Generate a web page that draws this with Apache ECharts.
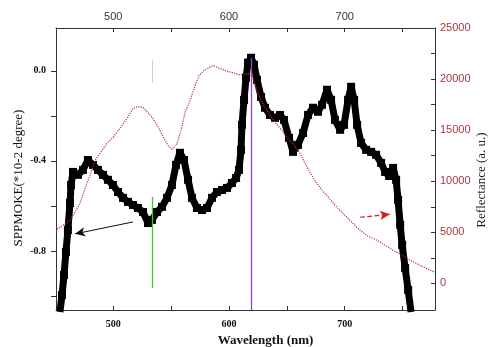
<!DOCTYPE html>
<html>
<head>
<meta charset="utf-8">
<script src="https://cdn.jsdelivr.net/npm/echarts@6.0.0/dist/echarts.min.js"></script>
<style>
html,body{margin:0;padding:0;background:#fff;}
#chart{width:491px;height:347px;}
</style>
</head>
<body>
<div id="chart"></div>
<script>
// SPPMOKE signal (left axis) – wavelength (nm) and value (*10^-2 degree)
const kerrWl = [453.9,455.7,457.4,459.1,460.8,462.6,463.5,465.2,469.5,473.8,478.1,482.5,486.8,491.1,495.4,499.7,504.1,508.4,512.7,517.0,521.3,525.7,530.0,533.4,537.8,542.1,546.4,550.7,554.2,557.6,561.1,564.6,568.0,572.3,576.7,581.0,585.3,589.6,594.0,598.3,602.6,606.1,608.6,610.4,611.2,613.0,614.7,616.4,619.0,621.6,624.2,627.7,631.1,635.4,639.8,644.1,647.5,651.9,655.3,659.6,664.0,668.3,672.6,676.9,680.4,684.7,688.2,691.6,696.0,699.4,702.9,705.5,708.1,710.7,714.1,718.5,722.8,727.1,731.4,734.9,738.4,741.8,744.4,746.1,747.9,749.6,752.2,754.8,757.3];
const kerrVal = [-1.071,-0.996,-0.907,-0.804,-0.707,-0.587,-0.507,-0.449,-0.462,-0.44,-0.396,-0.418,-0.44,-0.462,-0.484,-0.507,-0.538,-0.564,-0.582,-0.596,-0.609,-0.627,-0.676,-0.662,-0.627,-0.604,-0.564,-0.507,-0.418,-0.364,-0.396,-0.484,-0.564,-0.609,-0.618,-0.609,-0.564,-0.538,-0.529,-0.52,-0.498,-0.476,-0.44,-0.351,-0.24,-0.129,-0.031,0.036,0.058,0.027,-0.04,-0.116,-0.164,-0.196,-0.209,-0.196,-0.218,-0.298,-0.36,-0.329,-0.276,-0.196,-0.164,-0.182,-0.151,-0.084,-0.129,-0.218,-0.262,-0.24,-0.129,-0.071,-0.129,-0.24,-0.32,-0.351,-0.36,-0.373,-0.409,-0.449,-0.467,-0.431,-0.484,-0.573,-0.684,-0.773,-0.876,-0.973,-1.071];

// Reflectance (right axis, a.u.)
const reflWl = [451.3,456.5,462.6,467.8,471.2,475.6,479.9,484.2,488.5,494.6,499.7,505.8,511.8,517.0,521.3,525.7,530.0,534.3,538.6,543.0,547.3,550.7,555.1,558.5,562.0,566.3,570.6,574.1,578.4,582.7,586.2,590.5,594.8,599.2,603.5,607.8,612.1,616.4,619.9,624.2,628.6,633.7,639.8,645.8,651.0,656.2,661.4,665.7,670.0,675.2,680.4,687.3,693.3,700.2,707.1,713.2,720.1,727.9,734.8,741.7,749.5,756.4,765.0,773.7,778.0];
const reflVal = [5303,5693,6182,7158,7842,9307,10576,12041,12725,13701,14287,15166,16143,17120,17315,17217,16729,16143,15362,14385,13506,13115,13701,14971,16729,17901,19366,20342,20831,21124,21319,21124,20929,20733,20635,20440,20440,20538,20342,18877,17705,16729,15752,14971,14190,13506,12725,11748,10869,9893,9112,8233,7451,6670,5889,5205,4619,4229,3740,3252,2764,2275,1787,1299,1104];

// Axis ticks / labels
const xTicks = [500,550,600,650,700,750];
const xLabels = [500,600,700];
const leftTicks = [-1.0,-0.8,-0.6,-0.4,-0.2,0.0];
const leftLabels = [-0.8,-0.4,0.0];
const rightTicks = [0,2500,5000,7500,10000,12500,15000,17500,20000,22500,25000];
const rightLabels = [0,5000,10000,15000,20000,25000];

// Annotations
const greenWl = 533.5;
const purpleWl = 618.8;

const kerrData = kerrWl.map((w,i)=>[w,kerrVal[i]]);
const reflData = reflWl.map((w,i)=>[w,reflVal[i]]);

const serif = "'Liberation Serif','DejaVu Serif',serif";
const sans = "'Liberation Sans',Arial,sans-serif";
const axisLineStyle = {color:'#333', width:1};

function vline(name, yIdx, pairs, color, width, type, arrow){
  return {name:name,type:'line',xAxisIndex:0,yAxisIndex:yIdx,data:[],z:5,
    markLine:{silent:true,animation:false,precision:4,
      symbol:arrow?['none','arrow']:['none','none'],symbolSize:[7,10],
      label:{show:false},
      lineStyle:{color:color,width:width,type:type,opacity:1},
      itemStyle:{color:color},
      emphasis:{disabled:true},
      data:pairs.map(p=>[{coord:p[0]},{coord:p[1]}])}};
}

const chart = echarts.init(document.getElementById('chart'), null, {renderer:'canvas'});
chart.setOption({
  animation:false,
  backgroundColor:'#fff',
  grid:{left:56,right:56,top:28,bottom:37,containLabel:false,outerBoundsMode:'none'},
  xAxis:[
    {type:'value',position:'bottom',min:450.5,max:778,
     name:'Wavelength (nm)',nameLocation:'middle',nameGap:22,
     nameTextStyle:{fontFamily:serif,fontWeight:'bold',fontSize:13,color:'#111',padding:[0,0,0,40]},
     axisLine:{show:true,onZero:false,lineStyle:axisLineStyle},
     axisTick:{show:true,inside:true,length:4,customValues:xTicks,lineStyle:axisLineStyle},
     axisLabel:{customValues:xLabels,fontFamily:serif,fontWeight:'bold',fontSize:10,color:'#111',margin:9},
     splitLine:{show:false}},
    {type:'value',position:'top',min:450.5,max:778,
     axisLine:{show:true,onZero:false,lineStyle:axisLineStyle},
     axisTick:{show:true,inside:true,length:4,customValues:xTicks,lineStyle:axisLineStyle},
     axisLabel:{customValues:xLabels,fontFamily:sans,fontSize:11,color:'#333',margin:6},
     splitLine:{show:false}}
  ],
  yAxis:[
    {type:'value',position:'left',min:-1.062,max:0.19,
     name:'SPPMOKE(*10-2 degree)',nameLocation:'middle',nameGap:31,nameRotate:90,nameMoveOverlap:false,
     nameTextStyle:{fontFamily:serif,fontSize:13,color:'#111',padding:[0,18,0,0]},
     axisLine:{show:true,onZero:false,lineStyle:axisLineStyle},
     axisTick:{show:true,inside:false,length:5,customValues:leftTicks,lineStyle:axisLineStyle},
     axisLabel:{customValues:leftLabels,formatter:v=>v.toFixed(1),fontFamily:serif,fontWeight:'bold',fontSize:10,color:'#111',margin:10},
     splitLine:{show:false}},
    {type:'value',position:'right',min:-2600,max:25000,
     name:'Reflectance (a. u.)',nameLocation:'middle',nameGap:40,nameRotate:90,nameMoveOverlap:false,
     nameTextStyle:{fontFamily:serif,fontSize:13,color:'#222',padding:[0,22,0,0]},
     axisLine:{show:true,onZero:false,lineStyle:axisLineStyle},
     axisTick:{show:true,inside:true,length:4,customValues:rightTicks,lineStyle:axisLineStyle},
     axisLabel:{customValues:rightLabels,formatter:v=>String(v),fontFamily:sans,fontSize:11,color:'#a8373a',margin:5},
     splitLine:{show:false}}
  ],
  series:[
    {name:'SPPMOKE',type:'line',xAxisIndex:0,yAxisIndex:0,data:kerrData,
     symbol:'rect',symbolSize:8,showAllSymbol:true,clip:true,z:2,
     itemStyle:{color:'#000'},lineStyle:{color:'#000',width:7}},
    {name:'Reflectance',type:'line',xAxisIndex:0,yAxisIndex:1,data:reflData,
     symbol:'none',clip:true,z:3,
     lineStyle:{color:'#b8303a',width:1.2,type:'dotted'}},
    vline('green', 0, [[[greenWl,-0.56],[greenWl,-0.964]]], '#33cc33', 1.3, 'solid', false),
    vline('greenTop', 0, [[[greenWl,0.049],[greenWl,-0.053]]], '#b8e6b8', 1, 'solid', false),
    vline('purple', 0, [[[purpleWl,0.058],[purpleWl,-1.062]]], '#9a40c8', 1.3, 'solid', false),
    vline('arrowBlack', 0, [[[517.1,-0.671],[467.0,-0.724]]], '#111', 1, 'solid', true),
    vline('arrowRed', 1, [[[713.3,6475],[739.1,6768]]], '#d02020', 1.2, 'dashed', true)
  ]
});
</script>
</body>
</html>
